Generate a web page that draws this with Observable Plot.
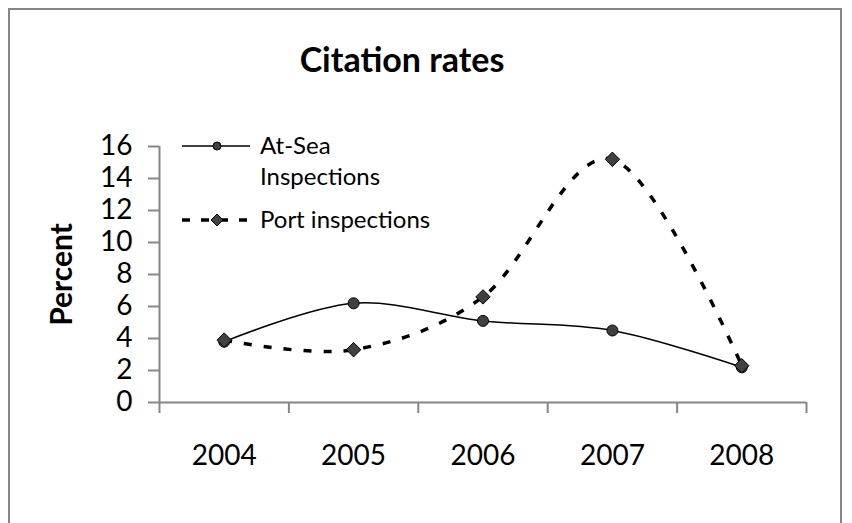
<!DOCTYPE html>
<html>
<head>
<meta charset="utf-8">
<script src="https://cdn.jsdelivr.net/npm/d3@7"></script>
<script src="https://cdn.jsdelivr.net/npm/@observablehq/plot@0.6"></script>
<style>
  html, body { margin: 0; padding: 0; background: #fff; }
  #wrap { position: relative; width: 852px; height: 523px; overflow: hidden; font-family: Lato, "Open Sans", sans-serif; }
  #frame { position: absolute; left: 8px; top: 8px; width: 834px; height: 560px; border: 2px solid #868686; box-sizing: border-box; pointer-events: none; }
  #title { position: absolute; left: 0; width: 804px; top: 39px; text-align: center; font-weight: bold; font-size: 34px; line-height: 1.2; color: #000; }
  #legend { position: absolute; left: 180px; top: 128px; }
  .lg { position: absolute; white-space: nowrap; font-size: 24px; color: #000; }
  #chart { position: absolute; left: 0; top: 0; }
</style>
</head>
<body>
<div id="wrap">
  <div id="chart"></div>
  <div id="title">Citation rates</div>
  <div id="legend"></div>
  <div id="frame"></div>
</div>
<script>
const years = [2004, 2005, 2006, 2007, 2008];
const atSea = [3.8, 6.2, 5.1, 4.5, 2.2];
const port = [3.9, 3.3, 6.6, 15.2, 2.3];
const yTicks = [0, 2, 4, 6, 8, 10, 12, 14, 16];
const seriesNames = ["At-Sea\nInspections", "Port inspections"];
const titleText = "Citation rates";
const yLabel = "Percent";

const boundaries = d3.range(years.length + 1).map(i => years[0] - 0.5 + i);
const seaData = years.map((y, i) => ({year: y, value: atSea[i]}));
const portData = years.map((y, i) => ({year: y, value: port[i]}));

const axisGray = "#868686";
const markFill = "#404040";

const chart = Plot.plot({
  width: 852,
  height: 523,
  marginLeft: 159,
  marginRight: 46,
  marginTop: 146,
  marginBottom: 121,
  style: {fontFamily: "Lato, 'Open Sans', sans-serif", background: "transparent", overflow: "visible"},
  x: {type: "linear", domain: [boundaries[0], boundaries[boundaries.length - 1]]},
  y: {domain: [0, 16]},
  marks: [
    Plot.axisY({ticks: yTicks, tickSize: 11, tickPadding: 16, stroke: axisGray, strokeWidth: 2, fill: "#000", fontSize: 28, label: null, tickFormat: d => String(d)}),
    Plot.axisX({ticks: boundaries, tickSize: 11, tickFormat: () => "", stroke: axisGray, strokeWidth: 2, label: null}),
    Plot.axisX({ticks: years, tickSize: 0, tickPadding: 43, fill: "#000", fontSize: 28, label: null, tickFormat: d => String(d)}),
    Plot.ruleX([boundaries[0]], {stroke: axisGray, strokeWidth: 2}),
    Plot.ruleY([0], {stroke: axisGray, strokeWidth: 2}),
    Plot.text([yLabel], {frameAnchor: "left", textAnchor: "middle", rotate: -90, dx: -97, fontSize: 30, fontWeight: "bold", fill: "#000"}),
    Plot.line(portData, {x: "year", y: "value", curve: "cardinal", stroke: "#000", strokeWidth: 3.5, strokeDasharray: "8,12", strokeLinecap: "butt", strokeLinejoin: "miter"}),
    Plot.line(seaData, {x: "year", y: "value", curve: "cardinal", stroke: "#000", strokeWidth: 1.5}),
    Plot.dot(seaData, {x: "year", y: "value", r: 5.5, symbol: "circle", fill: markFill, stroke: "#000", strokeWidth: 1}),
    Plot.dot(portData, {x: "year", y: "value", r: 6.5, symbol: "diamond2", fill: markFill, stroke: "#000", strokeWidth: 1})
  ]
});
document.getElementById("chart").appendChild(chart);
document.getElementById("title").textContent = titleText;

// Legend
const legend = document.getElementById("legend");
const ns = "http://www.w3.org/2000/svg";
const lsvg = document.createElementNS(ns, "svg");
lsvg.setAttribute("width", 80);
lsvg.setAttribute("height", 110);
lsvg.style.position = "absolute";
lsvg.style.left = "0px";
lsvg.style.top = "0px";
lsvg.innerHTML = `
  <line x1="2" x2="70" y1="18" y2="18" stroke="#000" stroke-width="1.5"/>
  <circle cx="37" cy="18" r="4" fill="${markFill}" stroke="#000"/>
  <line x1="2" x2="70" y1="92" y2="92" stroke="#000" stroke-width="3.5" stroke-dasharray="8,11"/>
  <path d="M37,86 L43,92 L37,98 L31,92 Z" fill="${markFill}" stroke="#000"/>
`;
legend.appendChild(lsvg);
const l1 = seriesNames[0].split("\n");
[[l1[0], 2], [l1[1], 33], [seriesNames[1], 76]].forEach(([t, top]) => {
  const d = document.createElement("div");
  d.className = "lg";
  d.textContent = t;
  d.style.left = "80px";
  d.style.top = top + "px";
  legend.appendChild(d);
});
</script>
</body>
</html>
